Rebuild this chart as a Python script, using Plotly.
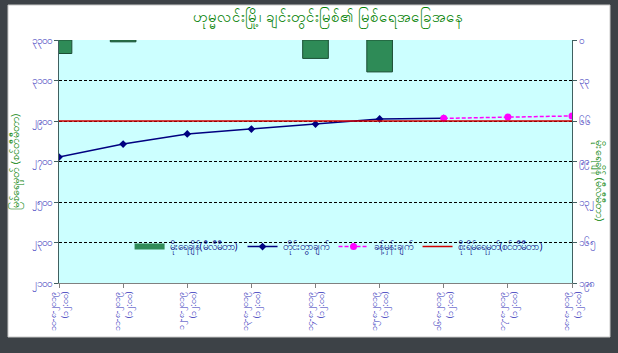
import plotly.graph_objects as go

# ---- data ----
categories = ["c1", "c2", "c3", "c4", "c5", "c6", "c7", "c8", "c9"]
tick_labels = [
    "၁၀-၈-၂၀၁၉<br>(၁၂:၀၀)", "၁၁-၈-၂၀၁၉<br>(၁၂:၀၀)", "၁၂-၈-၂၀၁၉<br>(၁၂:၀၀)",
    "၁၃-၈-၂၀၁၉<br>(၁၂:၀၀)", "၁၄-၈-၂၀၁၉<br>(၁၂:၀၀)", "၁၅-၈-၂၀၁၉<br>(၁၂:၀၀)",
    "၁၆-၈-၂၀၁၉<br>(၁၂:၀၀)", "၁၇-၈-၂၀၁၉<br>(၁၂:၀၀)", "၁၈-၈-၂၀၁၉<br>(၁၂:၀၀)",
]
rain_mm = [11, 1.5, None, None, 15, 26, None, None, None]
measured = [2722, 2786, 2836, 2860, 2885, 2910, 2913, None, None]
forecast = [None, None, None, None, None, None, 2913, 2920, 2925]
danger = [2900] * 9

left_vals = [2100, 2300, 2500, 2700, 2900, 3100, 3300]
left_text = ["၂၁၀၀", "၂၃၀၀", "၂၅၀၀", "၂၇၀၀", "၂၉၀၀", "၃၁၀၀", "၃၃၀၀"]
right_vals = [0, 33, 66, 99, 132, 165, 198]
right_text = ["၀", "၃၃", "၆၆", "၉၉", "၁၃၂", "၁၆၅", "၁၉၈"]

title_text = "ဟုမ္မလင်းမြို့၊ ချင်းတွင်းမြစ်၏ မြစ်ရေအခြေအနေ"
left_title = "မြစ်ရေမှတ် (စင်တီမီတာ)"
right_title = "မိုးရေချိန် (မီလီမီတာ)"
names = ["မိုးရေချိန်(မီလီမီတာ)", "တိုင်းတွာချက်", "ခန့်မှန်းချက်", "စိုးရိမ်ရေမှတ်(စင်တီမီတာ)"]

x = list(range(len(categories)))
bar_col = "#2e8b57"

fig = go.Figure()
fig.add_trace(go.Bar(x=x, y=rain_mm, name=names[0], yaxis="y2", width=0.4, showlegend=False,
                     legendgroup="rain",
                     marker=dict(color=bar_col, line=dict(color="#1a4d33", width=1))))
# legend entry for the rainfall bars (wide swatch like the original)
fig.add_trace(go.Scatter(x=[None], y=[None], name=names[0], mode="lines", legendgroup="rain",
                         line=dict(color=bar_col, width=6), yaxis="y2"))
fig.add_trace(go.Scatter(x=x, y=measured, name=names[1], mode="lines+markers",
                         line=dict(color="#000080", width=1.5),
                         marker=dict(symbol="diamond", size=6, color="#000080")))
fig.add_trace(go.Scatter(x=x, y=forecast, name=names[2], mode="lines+markers",
                         line=dict(color="#ff00ff", width=1.5, dash="4px,2px"),
                         marker=dict(symbol="circle", size=7, color="#ff00ff")))
fig.add_trace(go.Scatter(x=x, y=danger, name=names[3], mode="lines",
                         line=dict(color="#d00000", width=1.5)))

L, R, T, B = 59, 46, 40, 70
W, H = 618, 353
pw, ph = W - L - R, H - T - B

def px(xp):
    return (xp - L) / pw

def py(yp):
    return (H - B - yp) / ph

shapes = [
    dict(type="rect", xref="paper", yref="paper", x0=px(8), x1=px(610), y0=py(337), y1=py(5),
         fillcolor="white", line=dict(color="#c8c8c8", width=1), layer="below"),
    dict(type="rect", xref="paper", yref="paper", x0=0, x1=1, y0=0, y1=1,
         fillcolor="#ccffff", line=dict(width=0), layer="below"),
]

tick_col = "#3333bb"
fig.update_layout(
    width=W, height=H,
    margin=dict(l=L, r=R, t=T, b=B),
    paper_bgcolor="#3d4247",
    plot_bgcolor="#ccffff",
    shapes=shapes,
    showlegend=True,
    legend=dict(orientation="h", x=0.545, y=0.15, xanchor="center", yanchor="middle",
                bgcolor="rgba(0,0,0,0)", font=dict(size=10, color="#000080"),
                traceorder="normal", itemwidth=30),
    xaxis=dict(range=[0, 8], tickvals=x, ticktext=tick_labels, tickangle=-90,
               tickfont=dict(size=9, color=tick_col), showline=True, linecolor="#808080",
               ticks="outside", ticklen=4, tickcolor="#808080", showgrid=False, zeroline=False),
    yaxis=dict(range=[2100, 3300], tickvals=left_vals, ticktext=left_text,
               tickfont=dict(size=10, color=tick_col), showline=True, linecolor="#406060",
               ticks="outside", ticklen=4, tickcolor="#406060",
               showgrid=True, gridcolor="#000000", griddash="3px,2px", gridwidth=1, zeroline=False),
    yaxis2=dict(range=[198, 0], overlaying="y", side="right", tickvals=right_vals,
                ticktext=right_text, tickfont=dict(size=10, color=tick_col), showline=True,
                linecolor="#406060", ticks="outside", ticklen=4, tickcolor="#406060",
                showgrid=False, zeroline=False),
    annotations=[
        dict(text=title_text, xref="paper", yref="paper", x=px(328), y=py(18), showarrow=False,
             font=dict(size=15, color="#008000"), xanchor="center", yanchor="middle"),
        dict(text=left_title, xref="paper", yref="paper", x=px(15), y=py(162), showarrow=False,
             textangle=-90, font=dict(size=11, color="#008000"), xanchor="center", yanchor="middle"),
        dict(text=right_title, xref="paper", yref="paper", x=px(600), y=py(180), showarrow=False,
             textangle=90, font=dict(size=11, color="#008000"), xanchor="center", yanchor="middle"),
    ],
)

fig.write_html("out.html")
